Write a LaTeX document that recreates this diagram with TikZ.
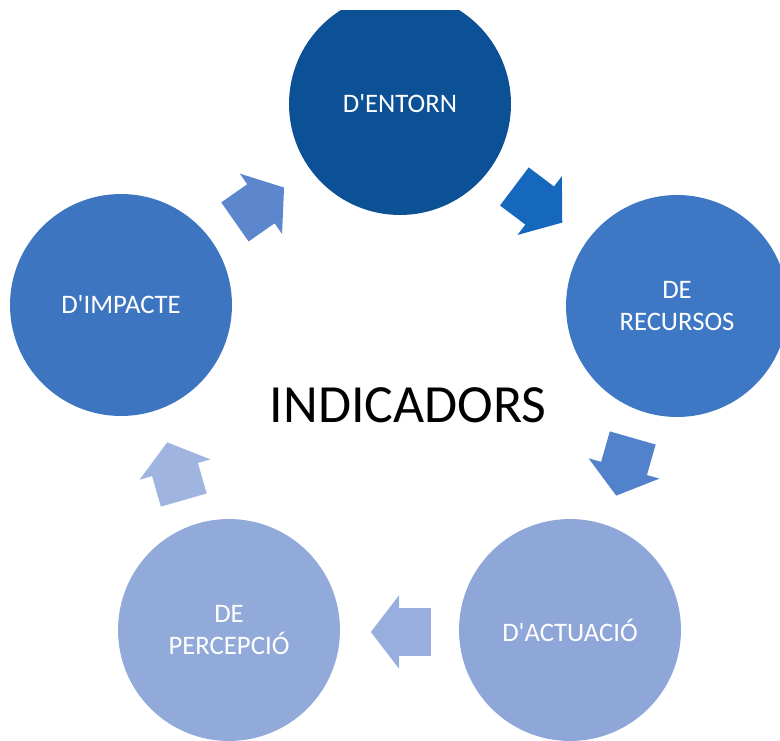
\documentclass[tikz,border=0pt]{standalone}
\usepackage{fontspec}
\newfontfamily\calibri{Carlito}
\usetikzlibrary{shapes,positioning}

\definecolor{entorn}{RGB}{12,80,150}
\definecolor{recursos}{RGB}{62,120,196}
\definecolor{actuacio}{RGB}{142,167,216}
\definecolor{percepcio}{RGB}{145,170,217}
\definecolor{impacte}{RGB}{62,117,193}
\definecolor{fletxaA}{RGB}{92,135,204}
\definecolor{fletxaB}{RGB}{22,104,190}
\definecolor{fletxaC}{RGB}{82,130,204}
\definecolor{fletxaD}{RGB}{152,174,222}
\definecolor{fletxaE}{RGB}{160,180,224}

\begin{document}
\begin{tikzpicture}[x=0.02cm,y=-0.02cm]
    \tikzstyle{cercle}=[circle, minimum size=4.44cm, inner sep=0pt, text=white, align=center, font=\calibri\fontsize{15.2}{18.7}\selectfont]
    \tikzstyle{fletxa}=[single arrow, minimum height=1.2cm, inner xsep=0pt, inner ysep=0.47cm, single arrow head extend=0.26cm, single arrow tip angle=105]

    \useasboundingbox (0,0) rectangle (780,740);
    \clip (0,11) rectangle (780,740);

    \node[cercle, fill=entorn]    (entorn)    at (400,104) {D'ENTORN};
    \node[cercle, fill=recursos]  (recursos)  at (677,306) {DE\\RECURSOS};
    \node[cercle, fill=actuacio]  (actuacio)  at (570,630) {D'ACTUACIÓ};
    \node[cercle, fill=percepcio] (percepcio) at (229,630) {DE\\PERCEPCIÓ};
    \node[cercle, fill=impacte]   (impacte)   at (121,305) {D'IMPACTE};

    \node[font=\calibri\fontsize{30.6}{36}\selectfont] (titol) at (408,405) {INDICADORS};

    \node[fletxa, fill=fletxaA, rotate=35]   (f1) at (252,210) {};
    \node[fletxa, fill=fletxaB, rotate=-37]  (f2) at (531,199) {};
    \node[fletxa, fill=fletxaC, rotate=-106] (f3) at (627,458) {};
    \node[fletxa, fill=fletxaD, rotate=180]  (f4) at (410,632) {};
    \node[fletxa, fill=fletxaE, rotate=106]  (f5) at (178,480) {};

\end{tikzpicture}
\end{document}
